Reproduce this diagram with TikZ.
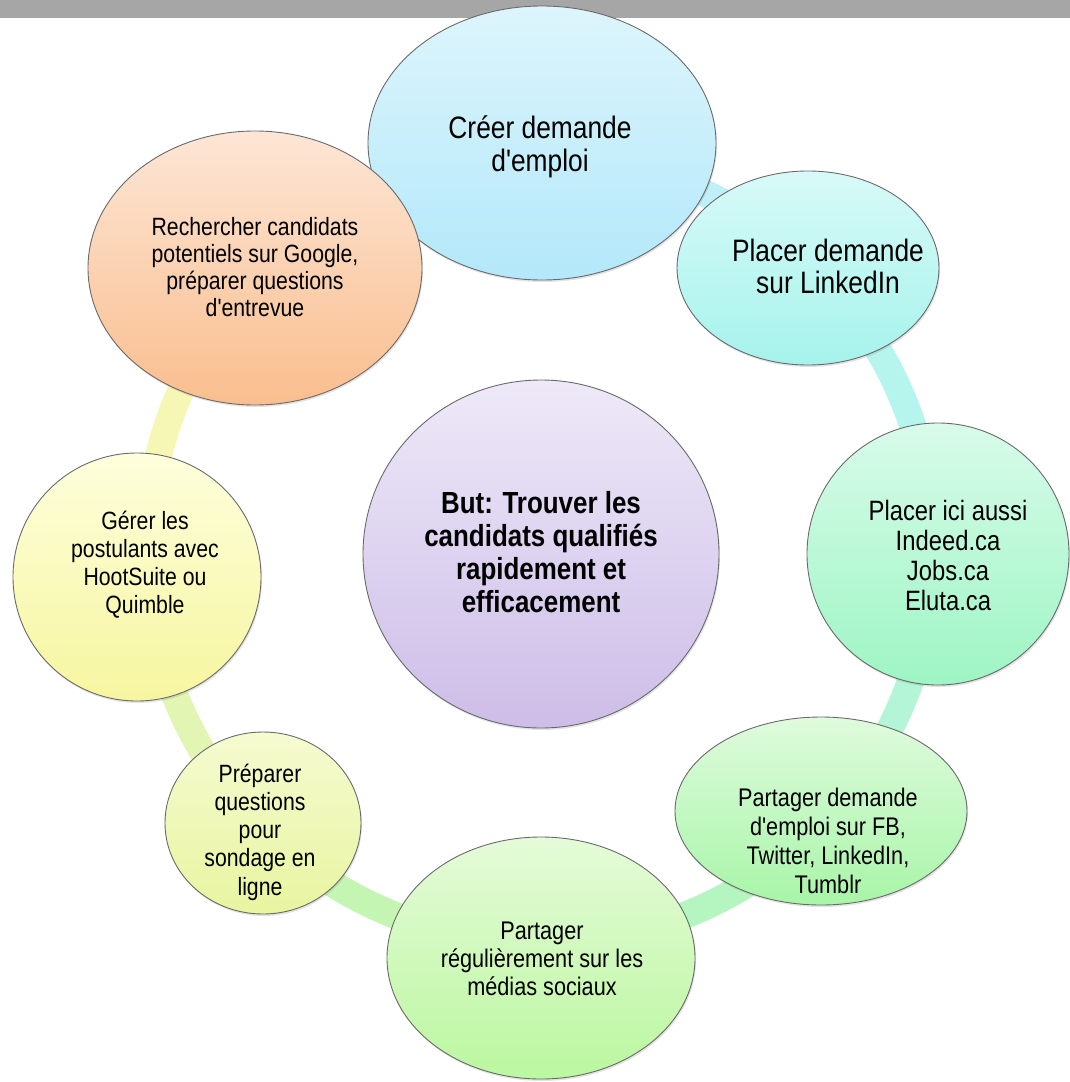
\documentclass[tikz,border=0pt]{standalone}
\usepackage{fontspec}
\newfontfamily\narrow{Liberation Sans}[FakeStretch=0.85]
\usetikzlibrary{shapes.geometric,backgrounds,calc,shadows}
\definecolor{barcol}{HTML}{A6A6A6}
\definecolor{edgecol}{HTML}{6A6A6A}
\definecolor{b12}{HTML}{BFEFF8}
\definecolor{b23}{HTML}{B6F5EE}
\definecolor{b34}{HTML}{B3F5D6}
\definecolor{b45}{HTML}{B5F5BF}
\definecolor{b56}{HTML}{C5F5B2}
\definecolor{b67}{HTML}{E3F5B3}
\definecolor{b78}{HTML}{F6F6B5}
\definecolor{b81}{HTML}{F7E0C0}
\begin{document}
\begin{tikzpicture}[x=1pt,y=-1pt,
  bubble/.style={ellipse, draw=edgecol, line width=0.9pt, inner sep=0pt,
    drop shadow={opacity=0.22,shadow xshift=1pt,shadow yshift=-2pt}},
  lbl/.style={align=center, text=black, inner sep=0pt},
  band/.style={line width=27pt}]
\useasboundingbox (0,0) rectangle (1070,1082);
\fill[barcol] (0,0) rectangle (1070,18);

\node[bubble, minimum width=348pt, minimum height=274pt, top color={rgb,255:red,221;green,245;blue,252}, bottom color={rgb,255:red,179;green,232;blue,250}] (n1) at (542,143) {};
\node[bubble, minimum width=262pt, minimum height=194pt, top color={rgb,255:red,216;green,250;blue,248}, bottom color={rgb,255:red,166;green,243;blue,236}] (n2) at (808,268) {};
\node[bubble, minimum width=262pt, minimum height=262pt, top color={rgb,255:red,216;green,251;blue,234}, bottom color={rgb,255:red,158;green,245;blue,196}] (n3) at (938,554) {};
\node[bubble, minimum width=292pt, minimum height=188pt, top color={rgb,255:red,223;green,251;blue,221}, bottom color={rgb,255:red,168;green,245;blue,168}] (n4) at (821,811) {};
\node[bubble, minimum width=308pt, minimum height=242pt, top color={rgb,255:red,229;green,251;blue,216}, bottom color={rgb,255:red,187;green,247;blue,160}] (n5) at (541,958) {};
\node[bubble, minimum width=196pt, minimum height=182pt, top color={rgb,255:red,245;green,251;blue,208}, bottom color={rgb,255:red,232;green,245;blue,160}] (n6) at (263,823) {};
\node[bubble, minimum width=248pt, minimum height=248pt, top color={rgb,255:red,254;green,254;blue,220}, bottom color={rgb,255:red,246;green,246;blue,160}] (n7) at (137,577) {};
\node[bubble, minimum width=334pt, minimum height=274pt, top color={rgb,255:red,253;green,230;blue,214}, bottom color={rgb,255:red,249;green,190;blue,142}] (n8) at (255,268) {};
\node[bubble, minimum width=356pt, minimum height=348pt, top color={rgb,255:red,238;green,233;blue,248}, bottom color={rgb,255:red,205;green,189;blue,232}] (c) at (541,554) {};

% ring connectors between neighbouring bubbles
\coordinate (o) at (540,550);
\coordinate (r1) at ($(o)+(-90:393)$);
\coordinate (r2) at ($(o)+(-46.5:393)$);
\coordinate (r3) at ($(o)+(0.6:393)$);
\coordinate (r4) at ($(o)+(42.9:393)$);
\coordinate (r5) at ($(o)+(90:393)$);
\coordinate (r6) at ($(o)+(135.4:393)$);
\coordinate (r7) at ($(o)+(176.2:393)$);
\coordinate (r8) at ($(o)+(224.7:393)$);
\begin{scope}[on background layer]
\draw[band, b12] (r1) arc[start angle=-90, end angle=-46.5, radius=393];
\draw[band, b23] (r2) arc[start angle=-46.5, end angle=0.6, radius=393];
\draw[band, b34] (r3) arc[start angle=0.6, end angle=42.9, radius=393];
\draw[band, b45] (r4) arc[start angle=42.9, end angle=90, radius=393];
\draw[band, b56] (r5) arc[start angle=90, end angle=135.4, radius=393];
\draw[band, b67] (r6) arc[start angle=135.4, end angle=176.2, radius=393];
\draw[band, b78] (r7) arc[start angle=176.2, end angle=224.7, radius=393];
\draw[band, b81] (r8) arc[start angle=224.7, end angle=270, radius=393];
\end{scope}

\node[lbl, font=\narrow\fontsize{31}{33}\selectfont] (t1) at ($(n1.center)+(-2,4)$) {Créer demande\\d'emploi};
\node[lbl, font=\narrow\fontsize{31}{32}\selectfont] (t2) at ($(n2.center)+(20,-2)$) {Placer demande\\sur LinkedIn};
\node[lbl, font=\narrow\fontsize{28}{30}\selectfont] (t3) at ($(n3.center)+(10,1)$) {Placer ici aussi\\Indeed.ca\\Jobs.ca\\Eluta.ca};
\node[lbl, font=\narrow\fontsize{25.5}{29}\selectfont] (t4) at ($(n4.center)+(7,30)$) {Partager demande\\d'emploi sur FB,\\Twitter, LinkedIn,\\Tumblr};
\node[lbl, font=\narrow\fontsize{25.5}{28}\selectfont] (t5) at ($(n5.center)+(1,1)$) {Partager\\régulièrement sur les\\médias sociaux};
\node[lbl, font=\narrow\fontsize{25}{28.3}\selectfont] (t6) at ($(n6.center)+(-3,9)$) {Préparer\\questions\\pour\\sondage en\\ligne};
\node[lbl, font=\narrow\fontsize{25}{28}\selectfont] (t7) at ($(n7.center)+(8,-12)$) {Gérer les\\postulants avec\\HootSuite ou\\Quimble};
\node[lbl, font=\narrow\fontsize{25}{27}\selectfont] (t8) at ($(n8.center)+(0,-1)$) {Rechercher candidats\\potentiels sur Google,\\préparer questions\\d'entrevue};
\node[lbl, font=\narrow\bfseries\fontsize{30.5}{33}\selectfont] (tc) at ($(c.center)+(0,-2)$) {But: Trouver les\\candidats qualifiés\\rapidement et\\efficacement};
\end{tikzpicture}
\end{document}
